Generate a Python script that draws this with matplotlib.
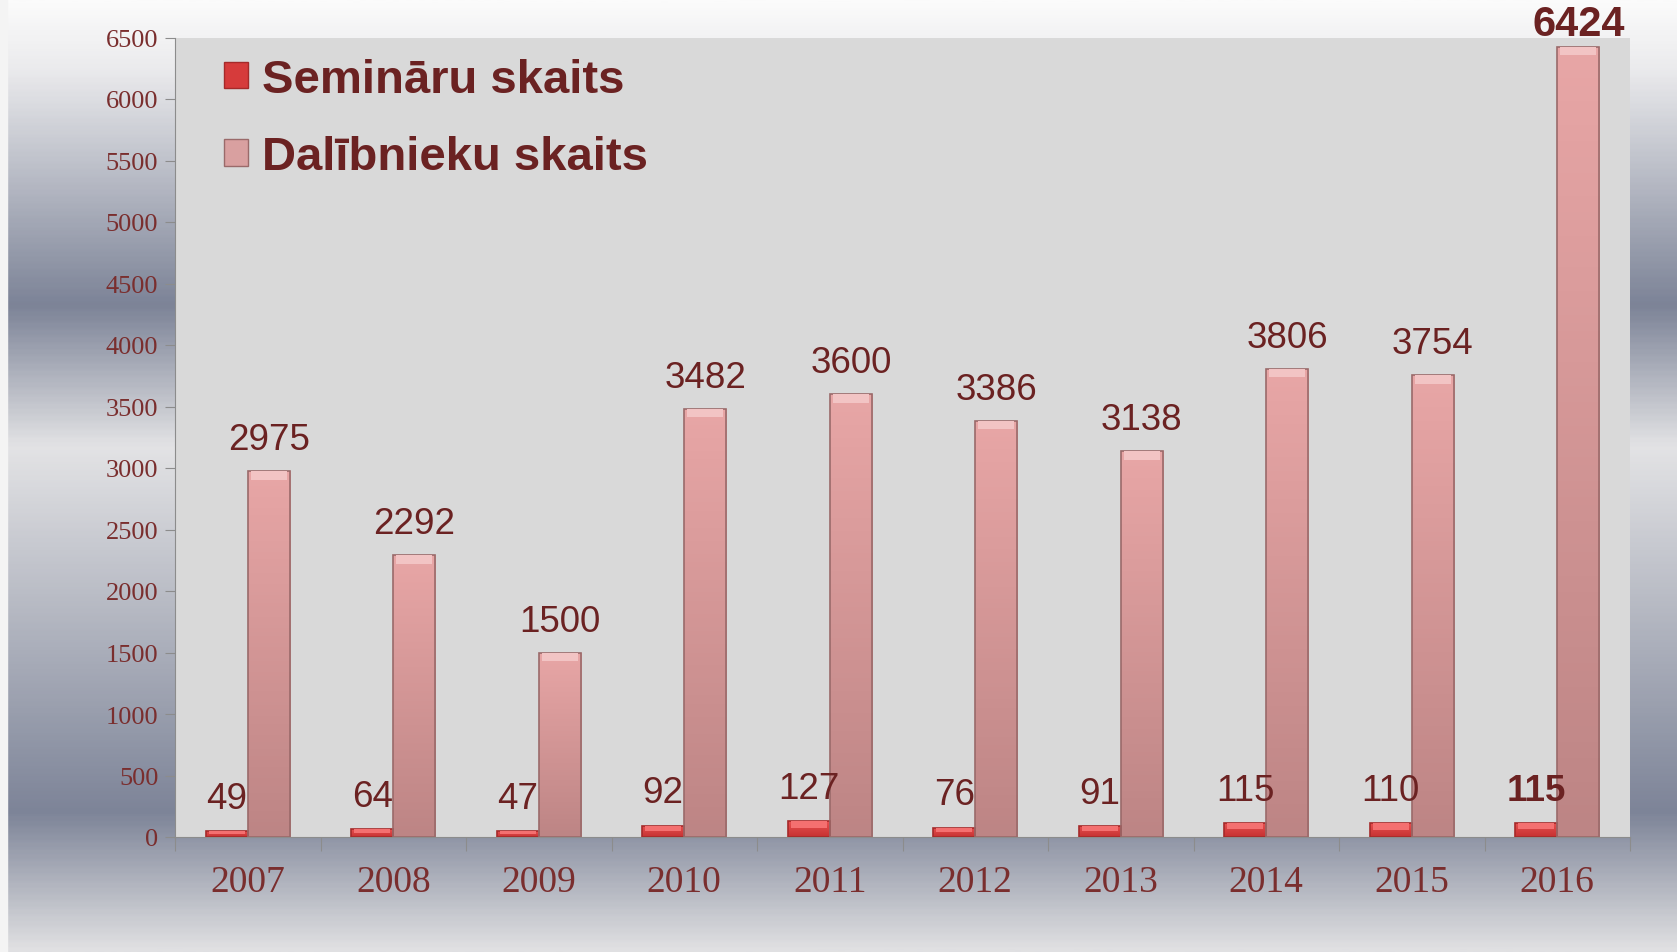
import numpy as np
import matplotlib
matplotlib.use("Agg")
import matplotlib.pyplot as plt
from matplotlib.colors import LinearSegmentedColormap
from matplotlib.patches import Patch

# data
years = ["2007", "2008", "2009", "2010", "2011", "2012", "2013", "2014", "2015", "2016"]
seminars = [49, 64, 47, 92, 127, 76, 91, 115, 110, 115]
participants = [2975, 2292, 1500, 3482, 3600, 3386, 3138, 3806, 3754, 6424]
seminar_label = "Semināru skaits"
participant_label = "Dalībnieku skaits"

text_col = "#6b2222"
tick_col = "#7a2e2e"
sans = ["Liberation Sans", "DejaVu Sans"]
serif = ["Liberation Serif", "DejaVu Serif"]

fig = plt.figure(figsize=(16.77, 9.53), dpi=100)

# background gradient
bg = fig.add_axes([0, 0, 1, 1], zorder=-10)
bg_cmap = LinearSegmentedColormap.from_list(
    "bg",
    [(0.0, "#fbfbfb"), (0.07, "#ebebed"), (0.32, "#7c8397"), (0.47, "#e3e3e5"),
     (0.855, "#7d8498"), (1.0, "#e0e0e2")],
)
grad = np.linspace(0, 1, 400).reshape(-1, 1)
bg.imshow(grad, cmap=bg_cmap, aspect="auto", extent=(0, 1, 0, 1), origin="upper")
bg.axvspan(0, 7 / 1677, color="#f4f4f4", zorder=2)
bg.set_xlim(0, 1)
bg.set_ylim(0, 1)
bg.axis("off")

ax = fig.add_axes([175 / 1677, 1 - 838 / 953, 1455 / 1677, 799.5 / 953])
ax.set_facecolor("#d9d9d9")

x = np.arange(len(years))
w = 0.29

red_cmap = LinearSegmentedColormap.from_list("red", ["#e85050", "#c63232"])
pink_cmap = LinearSegmentedColormap.from_list("pink", ["#e8a6a6", "#bd8585"])


def shaded_bars(xpos, vals, cmap, edge, bevel_col):
    bars = ax.bar(xpos, vals, w, color="none", edgecolor=edge, linewidth=1.2, zorder=3)
    for b, v in zip(bars, vals):
        x0 = b.get_x()
        img = ax.imshow(np.linspace(0, 1, 100).reshape(-1, 1), cmap=cmap, aspect="auto",
                        extent=(x0, x0 + w, 0, v), origin="upper", zorder=2)
        img.set_clip_path(b)
        # lighter bevel at the top of each bar
        bh = min(70, 0.45 * v)
        ax.bar(x0 + w / 2, bh, w * 0.86, bottom=v - bh, color=bevel_col,
               linewidth=0, zorder=3)
    return bars


shaded_bars(x - w / 2, seminars, red_cmap, "#a52a2a", "#f47070")
shaded_bars(x + w / 2, participants, pink_cmap, "#9a6a6a", "#f2c4c4")

ax.set_xlim(-0.5, len(years) - 0.5)
ax.set_ylim(0, 6500)

# value labels
for i in range(len(years)):
    bold = i == len(years) - 1
    ax.annotate(str(seminars[i]), (x[i] - w / 2, seminars[i]), xytext=(0, 11),
                textcoords="offset points", ha="center", va="bottom",
                fontsize=26.5, color=text_col, family=sans,
                fontweight="bold" if bold else "normal")
    ax.annotate(str(participants[i]), (x[i] + w / 2, participants[i]),
                xytext=(0, 2 if bold else 10), textcoords="offset points",
                ha="center", va="bottom", fontsize=30 if bold else 26.5,
                color=text_col, family=sans,
                fontweight="bold" if bold else "normal")

# axes styling
for s in ["top", "right"]:
    ax.spines[s].set_visible(False)
ax.spines["left"].set_color("#8c8c8c")
ax.spines["bottom"].set_color("#8c8c8c")

ax.set_yticks(np.arange(0, 6501, 500))
ax.tick_params(axis="y", length=7, color="#8c8c8c", labelsize=19, labelcolor=tick_col, pad=5)
for lab in ax.get_yticklabels():
    lab.set_family(serif)

ax.set_xticks(np.arange(-0.5, len(years)), minor=False)
ax.set_xticklabels([])
ax.set_xticks(x, minor=True)
ax.set_xticklabels(years, minor=True)
ax.tick_params(axis="x", which="major", length=10, color="#8c8c8c")
ax.tick_params(axis="x", which="minor", length=0, labelsize=27, labelcolor=tick_col, pad=20)
for lab in ax.get_xticklabels(minor=True):
    lab.set_family(serif)

handles = [Patch(facecolor="#d63b3b", edgecolor="#a52a2a"),
           Patch(facecolor="#d9a0a0", edgecolor="#9a6a6a")]
leg = ax.legend(handles, [seminar_label, participant_label], loc="upper left",
                bbox_to_anchor=(0.011, 1.016), frameon=False, handlelength=0.5,
                handleheight=0.5, handletextpad=0.3, labelspacing=0.7,
                borderaxespad=0.3,
                prop={"family": sans, "weight": "bold", "size": 34})
for t in leg.get_texts():
    t.set_color(text_col)

fig.savefig("out.png", dpi=100)
